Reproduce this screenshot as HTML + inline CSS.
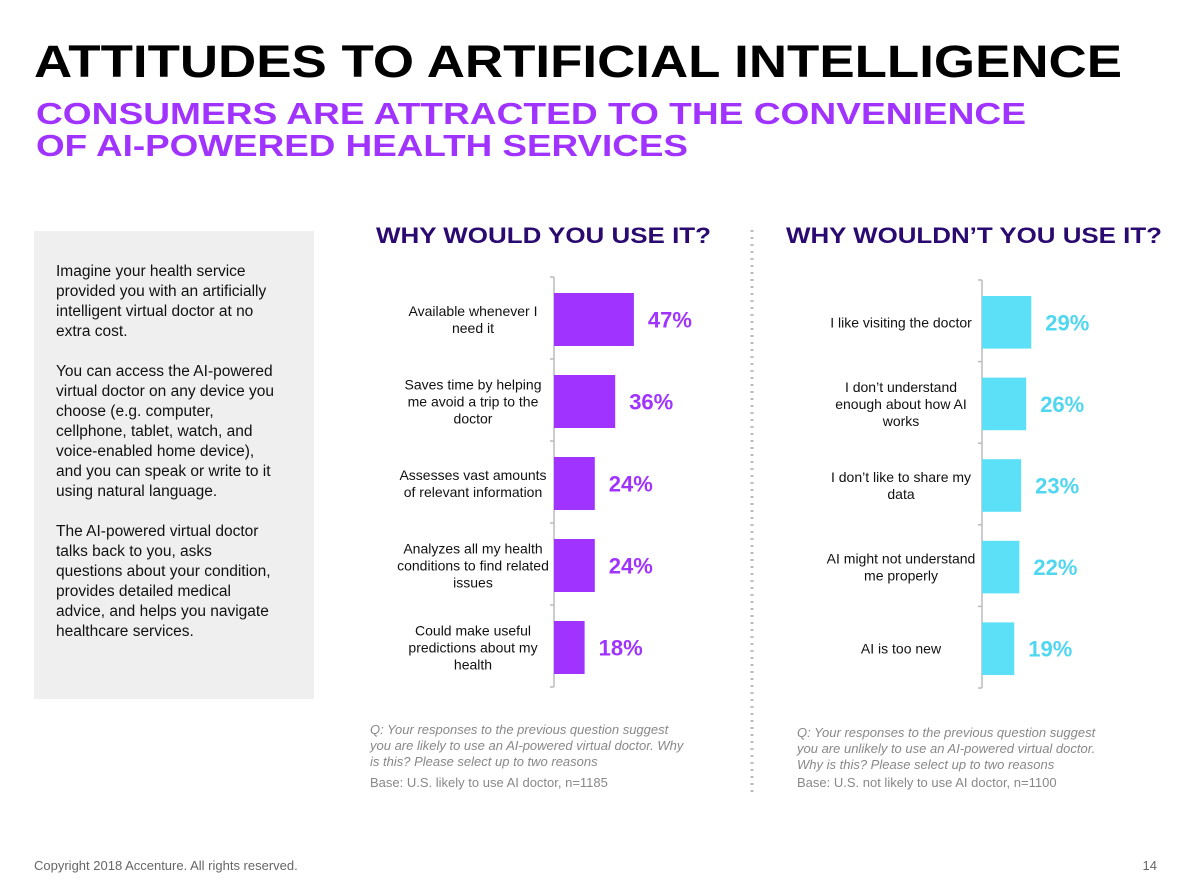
<!DOCTYPE html>
<html><head><meta charset="utf-8"><style>
html,body{margin:0;padding:0;background:#fff;}
svg{display:block;font-family:"Liberation Sans",Arial,sans-serif;}
</style></head><body>
<svg id="s" width="1200" height="883" viewBox="0 0 1200 883" xmlns="http://www.w3.org/2000/svg">
<text x="34" y="77" font-size="45" font-weight="bold" fill="#000" textLength="1088" lengthAdjust="spacingAndGlyphs">ATTITUDES TO ARTIFICIAL INTELLIGENCE</text>
<text x="36" y="124" font-size="31" font-weight="bold" fill="#a033ff" textLength="990" lengthAdjust="spacingAndGlyphs">CONSUMERS ARE ATTRACTED TO THE CONVENIENCE</text>
<text x="36" y="156" font-size="31" font-weight="bold" fill="#a033ff" textLength="652" lengthAdjust="spacingAndGlyphs">OF AI-POWERED HEALTH SERVICES</text>
<rect x="34" y="231" width="280" height="468" fill="#efefef"/>
<g font-size="15.5" fill="#111">
<text x="56" y="276">Imagine your health service</text>
<text x="56" y="296">provided you with an artificially</text>
<text x="56" y="316">intelligent virtual doctor at no</text>
<text x="56" y="336">extra cost.</text>
<text x="56" y="376">You can access the AI-powered</text>
<text x="56" y="396">virtual doctor on any device you</text>
<text x="56" y="416">choose (e.g. computer,</text>
<text x="56" y="436">cellphone, tablet, watch, and</text>
<text x="56" y="456">voice-enabled home device),</text>
<text x="56" y="476">and you can speak or write to it</text>
<text x="56" y="496">using natural language.</text>
<text x="56" y="536">The AI-powered virtual doctor</text>
<text x="56" y="556">talks back to you, asks</text>
<text x="56" y="576">questions about your condition,</text>
<text x="56" y="596">provides detailed medical</text>
<text x="56" y="616">advice, and helps you navigate</text>
<text x="56" y="636">healthcare services.</text>
</g>
<line x1="752" y1="230" x2="752" y2="792" stroke="#bbb" stroke-width="3" stroke-dasharray="2,5"/>
<text x="376" y="243" font-size="22" font-weight="bold" fill="#2a0a70" textLength="335" lengthAdjust="spacingAndGlyphs">WHY WOULD YOU USE IT?</text>
<text x="786" y="243" font-size="22" font-weight="bold" fill="#2a0a70" textLength="376" lengthAdjust="spacingAndGlyphs">WHY WOULDN’T YOU USE IT?</text>
<g id="left"></g>
<g id="right"></g>
<g font-size="13" fill="#888">
<text x="370" y="734" font-style="italic">Q: Your responses to the previous question suggest</text>
<text x="370" y="750" font-style="italic">you are likely to use an AI-powered virtual doctor. Why</text>
<text x="370" y="766" font-style="italic">is this? Please select up to two reasons</text>
<text x="370" y="787">Base: U.S. likely to use AI doctor, n=1185</text>
</g>
<g font-size="13" fill="#888">
<text x="797" y="737" font-style="italic">Q: Your responses to the previous question suggest</text>
<text x="797" y="753" font-style="italic">you are unlikely to use an AI-powered virtual doctor.</text>
<text x="797" y="769" font-style="italic">Why is this? Please select up to two reasons</text>
<text x="797" y="787">Base: U.S. not likely to use AI doctor, n=1100</text>
</g>
<text x="34" y="870" font-size="13" fill="#666">Copyright 2018 Accenture. All rights reserved.</text>
<text x="1157" y="870" font-size="13" fill="#666" text-anchor="end">14</text>
</svg>
<script>
const leftCategories=[["Available whenever I","need it"],["Saves time by helping","me avoid a trip to the","doctor"],["Assesses vast amounts","of relevant information"],["Analyzes all my health","conditions to find related","issues"],["Could make useful","predictions about my","health"]];
const leftValues=[47,36,24,24,18];
const leftLabels=["47%","36%","24%","24%","18%"];
const rightCategories=[["I like visiting the doctor"],["I don’t understand","enough about how AI","works"],["I don’t like to share my","data"],["AI might not understand","me properly"],["AI is too new"]];
const rightValues=[29,26,23,22,19];
const rightLabels=["29%","26%","23%","22%","19%"];
const NS="http://www.w3.org/2000/svg";
function mk(t,a,p){const e=document.createElementNS(NS,t);for(const k in a)e.setAttribute(k,a[k]);p.appendChild(e);return e;}
function chart(gid,cats,vals,labs,x0,top,bottom,color,labColor,prefix){
  const g=document.getElementById(gid);
  const n=vals.length, band=(bottom-top)/n, scale=1.70;
  const xs=v=>x0+v*scale;
  const ax=mk('line',{x1:x0,y1:top,x2:x0,y2:bottom,stroke:'#bbb','stroke-width':1.5},g);
  
  
  for(let i=0;i<=n;i++){const t=mk('line',{x1:x0-4,y1:top+i*band,x2:x0,y2:top+i*band,stroke:'#bbb','stroke-width':1.5},g);
    
    }
  vals.forEach((v,i)=>{
    const y=top+i*band+16, h=band-29, cy=y+h/2;
    const r=mk('rect',{x:x0,y:y,width:xs(v)-x0,height:h,fill:color},g);
    
    
    const l=mk('text',{x:xs(v)+14,y:cy+8,'font-size':22,'font-weight':'bold',fill:labColor},g);
    l.textContent=labs[i];
    
    
    const lines=cats[i], lh=17, y0=cy-(lines.length-1)*lh/2+5;
    const c=mk('text',{'font-size':14,fill:'#111','text-anchor':'middle'},g);
    
    
    lines.forEach((s,j)=>{const ts=mk('tspan',{x:x0-81,y:y0+j*lh},c);ts.textContent=s;});
  });
}
chart('left',leftCategories,leftValues,leftLabels,554,277,687,'#a033ff','#a033ff','left');
chart('right',rightCategories,rightValues,rightLabels,982,280,688,'#5ce0f8','#4fd6f0','right');
</script>
</body></html>
